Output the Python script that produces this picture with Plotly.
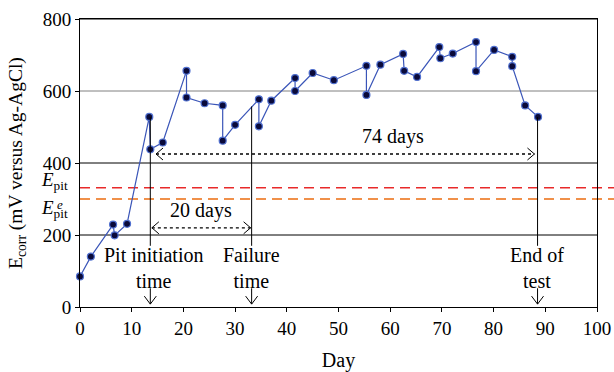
import plotly.graph_objects as go

# ---- data ----
day = [0, 2.1, 6.4, 6.7, 9.1, 13.4, 13.6, 16.0, 20.6, 20.6, 24.1, 27.6, 27.6, 30.0,
       34.6, 34.6, 37.0, 41.6, 41.6, 45.0, 49.1, 55.4, 55.4, 58.1, 62.5, 62.7, 65.2,
       69.5, 69.7, 72.1, 76.6, 76.6, 80.1, 83.6, 83.6, 86.1, 88.6]
ecorr = [85, 140, 229, 199, 231, 528, 438, 457, 656, 582, 566, 560, 462, 506,
         577, 502, 573, 636, 600, 650, 630, 670, 589, 673, 703, 656, 639,
         722, 691, 704, 736, 655, 714, 695, 669, 560, 528]

x_ticks = [0, 10, 20, 30, 40, 50, 60, 70, 80, 90, 100]
y_ticks = [0, 200, 400, 600, 800]
grid_levels = [200, 400, 600, 800]
grid_colors = ["black", "black", "#808080", "black"]

e_pit = 331
e_pit_e = 300

# events: day, top of vertical line, label
event_days = [13.6, 33.2, 88.5]
event_tops = [528, 557, 528]
event_labels = ["Pit initiation<br>time", "Failure<br>time", "End of<br>test"]
event_label_x = [14.3, 33.2, 88.3]
line_bottom = 170
arrow_top = 52
arrow_tip = 8

# spans: start, end, level, label, label x
span_start = [13.9, 14.7]
span_end = [33.0, 87.9]
span_level = [220, 425]
span_label = ["20 days", "74 days"]
span_label_x = [23.4, 60.5]

FONT = "Liberation Serif"

fig = go.Figure()

fig.add_trace(go.Scatter(
    x=day, y=ecorr, mode="lines+markers",
    line=dict(color="#3a55b8", width=1.2),
    marker=dict(symbol="circle", size=7, color="#0a0a3a",
                line=dict(color="#5070d0", width=1.2)),
    showlegend=False, cliponaxis=False,
))

shapes = []
# grid lines
for lv, c in zip(grid_levels, grid_colors):
    shapes.append(dict(type="line", xref="x", yref="y", x0=0, x1=100, y0=lv, y1=lv,
                       line=dict(color=c, width=1), layer="below"))
# Epit lines
shapes.append(dict(type="line", xref="paper", yref="y", x0=0, x1=1.04, y0=e_pit, y1=e_pit,
                   line=dict(color="#e82a2a", width=1.5, dash="10px,6px"), layer="below"))
shapes.append(dict(type="line", xref="paper", yref="y", x0=0, x1=1.04, y0=e_pit_e, y1=e_pit_e,
                   line=dict(color="#f0904a", width=1.8, dash="10px,6px"), layer="below"))

annotations = []
for d, top, lab, lx in zip(event_days, event_tops, event_labels, event_label_x):
    shapes.append(dict(type="line", xref="x", yref="y", x0=d, x1=d, y0=top, y1=line_bottom,
                       line=dict(color="black", width=1)))
    shapes.append(dict(type="line", xref="x", yref="y", x0=d, x1=d, y0=arrow_top, y1=arrow_tip,
                       line=dict(color="black", width=1)))
    shapes.append(dict(type="path", xref="x", yref="y", xsizemode="pixel", ysizemode="pixel",
                       xanchor=d, yanchor=arrow_tip, path="M -6,8 L 0,0 L 6,8",
                       line=dict(color="black", width=1)))
    annotations.append(dict(x=lx, y=108, xref="x", yref="y", text=lab, showarrow=False,
                            font=dict(family=FONT, size=20, color="black"),
                            align="center", xanchor="center", yanchor="middle"))

for s, e, lv, lab, lx in zip(span_start, span_end, span_level, span_label, span_label_x):
    shapes.append(dict(type="line", xref="x", yref="y", x0=s, x1=e, y0=lv, y1=lv,
                       line=dict(color="black", width=1.3, dash="dot")))
    shapes.append(dict(type="path", xref="x", yref="y", xsizemode="pixel", ysizemode="pixel",
                       xanchor=s, yanchor=lv, path="M 7,6 L 0,0 L 7,-6",
                       line=dict(color="black", width=1)))
    shapes.append(dict(type="path", xref="x", yref="y", xsizemode="pixel", ysizemode="pixel",
                       xanchor=e, yanchor=lv, path="M -7,6 L 0,0 L -7,-6",
                       line=dict(color="black", width=1)))
    annotations.append(dict(x=lx, y=lv + 10, xref="x", yref="y", text=lab, showarrow=False,
                            font=dict(family=FONT, size=20, color="black"),
                            xanchor="center", yanchor="bottom"))

# E_pit labels
annotations.append(dict(x=-0.02, y=e_pit + 20, xref="paper", yref="y",
                        text="<i>E</i><sub>pit</sub>", showarrow=False,
                        font=dict(family=FONT, size=19, color="black"),
                        xanchor="right", yanchor="middle"))
annotations.append(dict(x=-0.02, y=e_pit_e - 28, xref="paper", yref="y",
                        text="<i>E</i><sub>pit</sub>", showarrow=False,
                        font=dict(family=FONT, size=19, color="black"),
                        xanchor="right", yanchor="middle"))
annotations.append(dict(x=-0.048, y=e_pit_e - 16, xref="paper", yref="y",
                        text="<i>e</i>", showarrow=False,
                        font=dict(family=FONT, size=13, color="black"),
                        xanchor="left", yanchor="middle"))
# y title
annotations.append(dict(x=-0.122, y=0.5, xref="paper", yref="paper",
                        text="E<sub>corr</sub> (mV versus Ag-AgCl)", showarrow=False,
                        textangle=-90, font=dict(family=FONT, size=19.5, color="black"),
                        xanchor="center", yanchor="middle"))

fig.update_layout(
    width=614, height=372,
    margin=dict(l=80, r=17, t=19, b=65),
    paper_bgcolor="white", plot_bgcolor="white",
    font=dict(family=FONT, size=18, color="black"),
    shapes=shapes, annotations=annotations,
    xaxis=dict(range=[0, 100], tickvals=x_ticks, ticks="outside", ticklen=4,
               tickcolor="black", showline=True, linecolor="black", linewidth=1,
               mirror=True, showgrid=False, zeroline=False, automargin=False,
               title=dict(text="Day", font=dict(family=FONT, size=20), standoff=19),
               tickfont=dict(family=FONT, size=19)),
    yaxis=dict(range=[0, 800], tickvals=y_ticks, ticks="outside", ticklen=4,
               tickcolor="black", showline=True, linecolor="black", linewidth=1,
               mirror=True, showgrid=False, zeroline=False, automargin=False,
               tickfont=dict(family=FONT, size=19)),
)

fig.write_html("out.html")
